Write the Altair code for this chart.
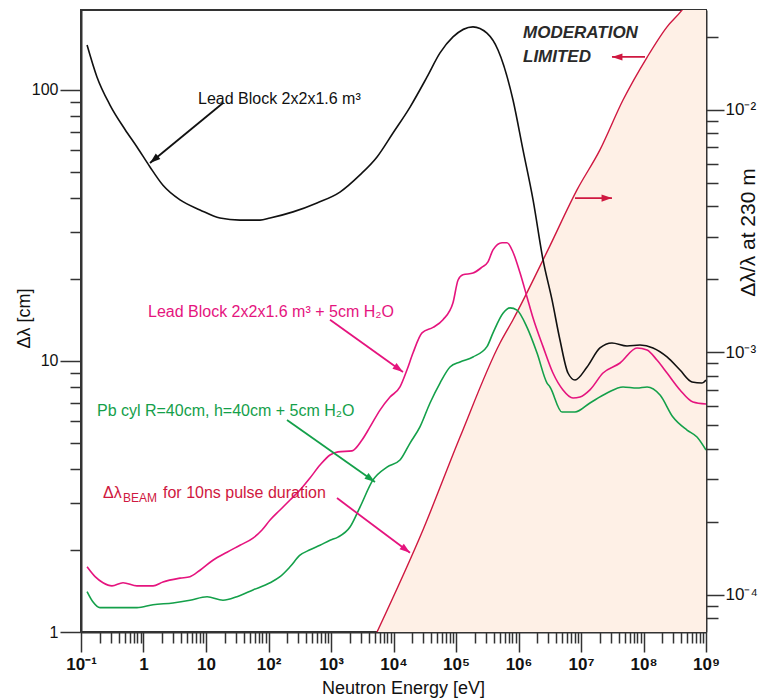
import altair as alt
import pandas as pd

# Moderation time spread converted to lambda resolution, Lead Block 2x2x1.6 m^3
lead_E = [0.125, 0.18, 0.291, 0.506, 0.787, 1.27, 2.05, 3.84, 8.02, 16.7, 35.0, 73.1,
          106, 247, 597, 1390, 2910, 5450, 9820, 18400, 34400, 55500, 89500, 187000,
          313000, 470000, 817000, 1.18e6, 1.71e6, 2.47e6, 3.44e6, 4.61e6, 6.19e6,
          8.02e6, 1.25e7, 2.01e7, 3.13e7, 5.45e7, 8.79e7, 1.42e8, 2.38e8, 3.84e8,
          5.97e8, 8.63e8, 1e9]
lead_dl = [146.6, 111.7, 88.0, 71.5, 61.6, 52.0, 44.5, 39.3, 36.1, 33.7, 33.1, 33.1,
           33.7, 35.5, 38.3, 42.0, 48.6, 56.6, 69.4, 86.5, 111.7, 137, 157, 171,
           162, 140.5, 91.8, 60.1, 39.3, 23.6, 16.8, 11.95, 9.03,
           8.51, 9.50, 11.17, 11.65, 11.36, 11.45, 11.17, 10.35, 9.26,
           8.37, 8.29, 8.51]

# Lead Block 2x2x1.6 m^3 + 5 cm H2O
h2o_E = [0.125, 0.168, 0.225, 0.313, 0.47, 0.787, 1.42, 2.05, 3.84, 5.55, 8.02, 12.9,
         21.7, 35.0, 56.5, 78.7, 106, 153, 221, 319, 461, 667, 964, 1294, 2168, 3133,
         4207, 6081, 8790, 12700, 16400, 20500, 28600, 42900, 61900, 89500, 108000,
         129000, 187000, 261000, 325000, 391000, 545000, 655000, 817000, 1.06e6,
         1.37e6, 1.71e6, 2.47e6, 3.56e6, 5.15e6, 7.45e6, 9.64e6, 1.39e7, 2.25e7,
         4.21e7, 7.87e7, 1.14e8, 1.64e8, 2.38e8, 3.84e8, 6.19e8, 1e9]
h2o_dl = [1.74, 1.60, 1.52, 1.48, 1.52, 1.48, 1.48, 1.53, 1.58, 1.60, 1.69, 1.84,
          1.97, 2.09, 2.22, 2.38, 2.59, 2.82, 3.07, 3.34, 3.70, 4.13, 4.50, 4.62, 4.66, 5.11,
          5.71, 6.59, 7.36, 8.02, 9.26, 10.7, 12.7, 13.3, 14.2, 16.4, 19.9,
          20.8, 21.1, 22.2, 23.2, 25.7, 27.3, 27.3, 25.2, 21.1,
          17.2, 14.4, 11.3, 9.03, 7.82, 7.30, 7.36, 7.82, 9.03,
          9.83, 11.17, 10.98, 10.08, 9.03, 7.82, 7.06, 6.94]

# Pb cylinder R=40 cm, h=40 cm + 5 cm H2O
cyl_E = [0.125, 0.156, 0.201, 0.377, 0.787, 1.42, 2.96, 5.55, 10.4, 18.7, 31.3, 56.5,
         106, 153, 221, 319, 461, 667, 964, 1294, 2014, 2911, 4699, 7870, 12700,
         18400, 26500, 38400, 55500, 80200, 116000, 187000, 313000, 391000, 565000,
         731000, 946000, 1.37e6, 1.98e6, 2.86e6, 3.19e6, 4.97e6, 8.02e6, 1.39e7,
         2.61e7, 4.70e7, 7.87e7, 1.14e8, 1.84e8, 2.96e8, 4.97e8, 7.18e8, 1e9]
cyl_dl = [1.41, 1.29, 1.23, 1.23, 1.23, 1.26, 1.28, 1.31, 1.35, 1.31, 1.35, 1.43,
          1.52, 1.60, 1.74, 1.92, 2.01, 2.09, 2.18, 2.24, 2.44, 2.89, 3.64, 4.06, 4.31,
          4.98, 5.71, 7.00, 8.29, 9.50, 9.92, 10.35, 11.3, 12.7, 15.0,
          15.7, 15.4, 13.3, 10.7, 8.29, 8.02, 6.48, 6.48, 7.00,
          7.62, 8.02, 7.95, 8.02, 7.49, 6.21, 5.56, 5.24, 4.69]

# Beam contribution for a 10 ns pulse
beam_E = [5450, 29600, 116000, 506000, 817000, 2.96e6, 8.63e6, 2.01e7, 4.70e7,
          1.14e8, 2.38e8, 4.13e8, 1e9]
beam_dl = [1.0, 2.38, 5.24, 11.65, 14.2, 25.7, 42.8, 60.1, 91.8,
           132, 171, 197, 272]

E_MIN, E_MAX = 0.1, 1e9
DL_MIN, DL_MAX = 1.0, 197.3
R_MIN, R_MAX = 7.03e-5, 0.02582

x_labels = ["10⁻¹", "1", "10", "10²", "10³", "10⁴", "10⁵", "10⁶", "10⁷", "10⁸", "10⁹"]
y_labels = ["1", "10", "100"]
r_labels = ["10⁻⁴", "10⁻³", "10⁻²"]

x_ticks = [m * 10.0 ** k for k in range(-1, 9) for m in range(1, 10)] + [1e9]
y_ticks = [m * 10.0 ** k for k in range(0, 2) for m in range(1, 10)] + [100.0]
r_ticks = [8e-5, 9e-5] + [m * 10.0 ** k for k in (-4, -3) for m in range(1, 10)] + [1e-2, 2e-2]

BLACK = "#111111"
MAGENTA = "#E5147E"
GREEN = "#14A04A"
RED = "#CF1840"
FILL = "#FEF0E6"
FONT = "Liberation Sans"

LG = "log(datum.value)/LN10"
IS_DECADE = f"abs({LG} - round({LG})) < 0.001"


def decade_labels(labels, first_exp):
    arr = "[" + ",".join(f"'{s}'" for s in labels) + "]"
    return f"{IS_DECADE} ? {arr}[round({LG}) - ({first_exp})] : ''"


def tick_size(major, minor):
    return {"condition": {"test": IS_DECADE, "value": major}, "value": minor}


xscale = alt.Scale(type="log", domain=[E_MIN, E_MAX], nice=False)
yscale = alt.Scale(type="log", domain=[DL_MIN, DL_MAX], nice=False)

x_axis = alt.Axis(values=x_ticks, labelExpr=decade_labels(x_labels, -1),
                  tickSize=tick_size(20, 11), labelPadding=4, labelOverlap=False,
                  labelFlush=False, labelFontSize=17, labelFontWeight="bold",
                  labelFont=FONT, labelColor="#111", grid=False,
                  title="Neutron Energy [eV]", titleFont=FONT, titleFontSize=18,
                  titleFontWeight="normal", titleColor="#111", titleX=322, titleY=56,
                  titleBaseline="middle", titleAlign="center")
y_axis = alt.Axis(values=y_ticks, labelExpr=decade_labels(y_labels, 0),
                  tickSize=tick_size(21, 11), labelPadding=2, labelOverlap=False,
                  labelFlush=False, labelFontSize=16, labelFont=FONT, labelColor="#111",
                  grid=False, title="Δλ [cm]", titleFont=FONT, titleFontSize=18,
                  titleFontWeight="normal", titleColor="#111", titleAngle=270,
                  titleX=-57, titleY=308, titleBaseline="middle", titleAlign="center")
r_axis = alt.Axis(orient="right", values=r_ticks, labelExpr=decade_labels(r_labels, -4),
                  tickSize=tick_size(18, 12), labelPadding=1, labelOverlap=False,
                  labelFlush=False, labelFontSize=17, labelFont=FONT, labelColor="#111",
                  grid=False, title="Δλ/λ  at 230 m", titleFont=FONT, titleFontSize=21,
                  titleFontWeight="normal", titleColor="#111", titleAngle=270,
                  titleX=42, titleY=222, titleBaseline="middle", titleAlign="center")

curves = pd.concat([
    pd.DataFrame({"E": lead_E, "dl": lead_dl, "series": "lead"}),
    pd.DataFrame({"E": h2o_E, "dl": h2o_dl, "series": "lead_h2o"}),
    pd.DataFrame({"E": cyl_E, "dl": cyl_dl, "series": "pb_cyl"}),
])
beam = pd.DataFrame({"E": beam_E, "dl": beam_dl, "floor": DL_MIN})

# annotation labels (anchored in energy / resolution coordinates)
notes = pd.DataFrame([
    {"E": 7.45, "dl": 92.6, "text": "Lead Block 2x2x1.6 m³", "series": "lead"},
    {"E": 1.18, "dl": 15.2, "text": "Lead Block 2x2x1.6 m³ + 5cm H₂O", "series": "lead_h2o"},
    {"E": 0.18, "dl": 6.54, "text": "Pb cyl R=40cm, h=40cm + 5cm H₂O", "series": "pb_cyl"},
])
beam_note = pd.DataFrame([{"E": 0.225, "dl": 3.26}])
mod_note = pd.DataFrame([
    {"E": 1.18e6, "dl": 162.3, "text": "MODERATION"},
    {"E": 1.18e6, "dl": 132.4, "text": "LIMITED"},
])

arrows = pd.DataFrame([
    {"E0": 18.7, "d0": 89.5, "E1": 1.27, "d1": 53.8, "series": "lead", "ang": 230.6},
    {"E0": 964, "d0": 14.2, "E1": 14191, "d1": 9.11, "series": "lead_h2o", "ang": 125.4},
    {"E0": 197.7, "d0": 6.06, "E1": 5058, "d1": 3.58, "series": "pb_cyl", "ang": 125.2},
    {"E0": 1247, "d0": 3.12, "E1": 18365, "d1": 1.96, "series": "lead_h2o", "ang": 127.0},
    {"E0": 1.057e8, "d0": 132.4, "E1": 3.13e7, "d1": 132.4, "series": "beam", "ang": 270.0},
    {"E0": 8.02e6, "d0": 39.9, "E1": 3.13e7, "d1": 39.9, "series": "beam", "ang": 90.0},
])

color_scale = alt.Scale(domain=["lead", "lead_h2o", "pb_cyl", "beam"],
                        range=[BLACK, MAGENTA, GREEN, RED])
C = alt.Color("series:N", scale=color_scale, legend=None)

X = lambda f: alt.X(f, type="quantitative", scale=xscale, axis=x_axis)
Y = lambda f: alt.Y(f, type="quantitative", scale=yscale, axis=y_axis)

beam_area = alt.Chart(beam).mark_area(color=FILL, clip=True).encode(
    x=X("E"), y=Y("dl"), y2="floor:Q")
beam_line = alt.Chart(beam).mark_line(color=RED, strokeWidth=1.4, clip=True,
                                      interpolate="monotone").encode(
    x=X("E"), y=Y("dl"))
curve_lines = alt.Chart(curves).mark_line(strokeWidth=1.6, clip=True,
                                          interpolate="monotone").encode(
    x=X("E"), y=Y("dl"), color=C, detail="series:N")
arrow_lines = alt.Chart(arrows).mark_rule(strokeWidth=1.8).encode(
    x=X("E0"), y=Y("d0"), x2="E1:Q", y2="d1:Q", color=C)
arrow_heads = alt.Chart(arrows).mark_point(
    shape="M0,0L0.75,2.2L-0.75,2.2Z", filled=True, size=90, opacity=1, strokeWidth=0
).encode(x=X("E1"), y=Y("d1"), angle=alt.Angle("ang:Q", scale=None), color=C)
note_text = alt.Chart(notes).mark_text(align="left", baseline="middle", font=FONT,
                                       fontSize=16).encode(
    x=X("E"), y=Y("dl"), text="text:N", color=C)
beam_dl_sym = alt.Chart(beam_note).mark_text(align="left", baseline="middle", font=FONT,
                                             fontSize=16, color=RED, text="Δλ").encode(
    x=X("E"), y=Y("dl"))
beam_sub = alt.Chart(beam_note).mark_text(align="left", baseline="middle", font=FONT,
                                          fontSize=12, color=RED, text="BEAM",
                                          dx=20, dy=5).encode(x=X("E"), y=Y("dl"))
beam_rest = alt.Chart(beam_note).mark_text(align="left", baseline="middle", font=FONT,
                                           fontSize=16, color=RED,
                                           text="for  10ns pulse duration",
                                           dx=60).encode(x=X("E"), y=Y("dl"))
mod_text = alt.Chart(mod_note).mark_text(align="left", baseline="middle", font=FONT,
                                         fontSize=17, fontWeight="bold",
                                         fontStyle="italic", color="#2a2a2a").encode(
    x=X("E"), y=Y("dl"), text="text:N")

left = alt.layer(beam_area, beam_line, curve_lines, arrow_lines, arrow_heads,
                 note_text, beam_dl_sym, beam_sub, beam_rest, mod_text)

# secondary scale: relative resolution at a 230 m flight path
right = alt.Chart(pd.DataFrame({"r": r_ticks})).mark_point(opacity=0).encode(
    y=alt.Y("r:Q", scale=alt.Scale(type="log", domain=[R_MIN, R_MAX], nice=False),
            axis=r_axis)
)

chart = alt.layer(left, right).resolve_scale(y="independent").properties(
    width=625, height=622,
    autosize=alt.AutoSizeParams(type="none"),
    padding={"left": 81, "top": 10, "right": 57, "bottom": 67},
).configure_view(
    stroke="#333", strokeWidth=2
).configure_axis(
    domainColor="#333", domainWidth=2, tickColor="#333", tickWidth=1.5
)

chart.save("out.html", embed_options={"renderer": "svg", "actions": False})
